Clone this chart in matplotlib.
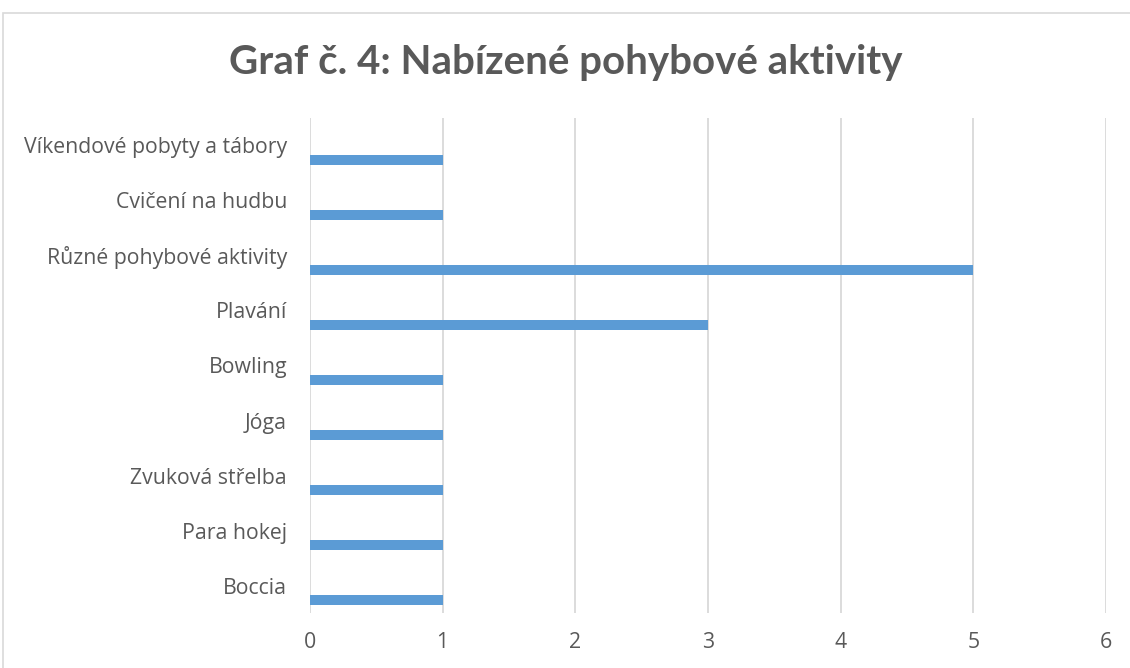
import matplotlib.pyplot as plt
from matplotlib.patches import Rectangle
import numpy as np

categories = ["Boccia", "Para hokej", "Zvuková střelba", "Jóga", "Bowling",
              "Plavání", "Různé pohybové aktivity", "Cvičení na hudbu",
              "Víkendové pobyty a tábory"]
values = [1, 1, 1, 1, 1, 3, 5, 1, 1]
xticks = [0, 1, 2, 3, 4, 5, 6]

plt.rcParams['font.family'] = ['Open Sans', 'DejaVu Sans']

fig = plt.figure(figsize=(11.3, 6.68), dpi=100)
ax = fig.add_axes([0.2743, 0.0823, 0.7045, 0.7411])

# chart frame (right and bottom edges run off the image)
fig.patches.append(Rectangle((0.003, -0.1), 1.2, 1.0805, transform=fig.transFigure,
                             fill=False, edgecolor='#D9D9D9', linewidth=1.2))

y = np.arange(len(categories))
ax.barh(y - 0.265, values, height=0.17, color='#5B9BD5', zorder=3)

ax.set_xlim(0, 6)
ax.set_ylim(-0.5, len(categories) - 0.5)
ax.set_xticks(xticks)
ax.set_yticks(y)
ax.set_yticklabels(categories)
ax.grid(axis='x', color='#D9D9D9', linewidth=1.3)
ax.set_axisbelow(True)
for s in ax.spines.values():
    s.set_visible(False)
ax.tick_params(axis='both', length=0, colors='#595959', labelsize=15.3)
ax.tick_params(axis='y', pad=16.5)
ax.tick_params(axis='x', pad=14)

fig.text(0.501, 0.907, "Graf č. 4: Nabízené pohybové aktivity", ha='center', va='center',
         fontsize=29, fontweight='bold', color='#595959', family=['Lato', 'DejaVu Sans'])

fig.savefig('out.png', dpi=100)
